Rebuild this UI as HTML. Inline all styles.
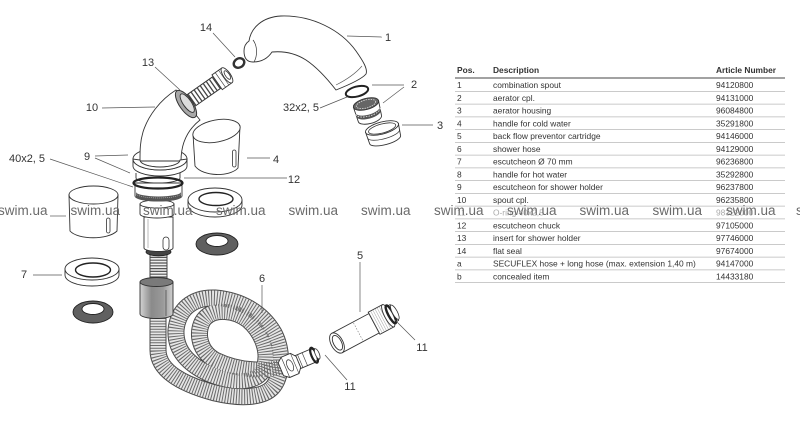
<!DOCTYPE html>
<html>
<head>
<meta charset="utf-8">
<style>
  html,body{margin:0;padding:0;background:#fff;}
  svg{display:block;}
  text{font-family:"Liberation Sans", Arial, sans-serif;}
</style>
</head>
<body>
<svg width="800" height="422" viewBox="0 0 800 422" xmlns="http://www.w3.org/2000/svg">
  <defs>
    <linearGradient id="sleeve" x1="0" x2="1" y1="0" y2="0">
      <stop offset="0" stop-color="#d4d4d4"/>
      <stop offset="0.35" stop-color="#8a8a8a"/>
      <stop offset="0.7" stop-color="#9a9a9a"/>
      <stop offset="1" stop-color="#cfcfcf"/>
    </linearGradient>
    <path id="hose" d="M158,318 L158,350 C158,372 185,385 215,393 C240,399 262,398 272,388 C283,376 283,350 274,333 C262,312 240,300 215,298 C192,297 178,310 176,330 C175,350 188,365 212,375 C235,384 258,383 264,368 C270,352 262,332 248,320 C235,310 215,308 205,318 C196,328 197,350 215,360 C240,372 265,372 285,366"/>
  </defs>

  <rect width="800" height="422" fill="#fff"/>

  <!-- ============ HOSE (6) ============ -->
  <use href="#hose" fill="none" stroke="#4a4a4a" stroke-width="17" stroke-linecap="butt"/>
  <use href="#hose" fill="none" stroke="#e6e6e6" stroke-width="15"/>
  <use href="#hose" fill="none" stroke="#6a6a6a" stroke-width="15" stroke-dasharray="1,1.7"/>

  <!-- threaded stub above sleeve -->
  <path d="M158.5,254 L158.5,283" stroke="#444" stroke-width="18" fill="none"/>
  <path d="M158.5,254 L158.5,283" stroke="#eee" stroke-width="16" fill="none"/>
  <path d="M158.5,254 L158.5,283" stroke="#555" stroke-width="16" fill="none" stroke-dasharray="1.2,1.6"/>

  <!-- sleeve -->
  <path d="M140,282 L140,314 A16.5,4.5 0 0 0 173,314 L173,282 Z" fill="url(#sleeve)" stroke="#333" stroke-width="0.9"/>
  <ellipse cx="156.5" cy="282" rx="16.5" ry="4.5" fill="#7a7a7a" stroke="#333" stroke-width="0.9"/>
  <line x1="166" y1="290" x2="166" y2="316" stroke="#333" stroke-width="0.6"/>

  <!-- ============ SPOUT COLUMN ============ -->
  <!-- dark ring bottom -->
  <ellipse cx="158.5" cy="252" rx="12.5" ry="3.8" fill="#444" stroke="#222" stroke-width="0.8"/>
  <!-- shaft -->
  <path d="M144,217 L144,248 A14.5,3.5 0 0 0 173,248 L173,217 Z" fill="#fff" stroke="#333" stroke-width="0.9"/>
  <line x1="148" y1="219" x2="148" y2="248" stroke="#777" stroke-width="0.5"/>
  <rect x="163" y="237" width="6" height="13" rx="3" fill="#fff" stroke="#333" stroke-width="0.8"/>
  <!-- light ring -->
  <path d="M140,204 L140,214 A17,4 0 0 0 174,214 L174,204 Z" fill="#fff" stroke="#333" stroke-width="0.9"/>
  <ellipse cx="157" cy="204" rx="17" ry="4" fill="#fff" stroke="#333" stroke-width="0.9"/>
  <!-- chuck 12 -->
  <path d="M135,183 L135,196 A23.5,5 0 0 0 182,196 L182,183 Z" fill="#fff" stroke="#333" stroke-width="0.9"/>
  <path d="M136,192 A22.5,4.5 0 0 0 181,192 L181,197 A22.5,4.5 0 0 1 136,197 Z" fill="#555"/>
  <path d="M136,193.5 A22.5,4.5 0 0 0 181,193.5" fill="none" stroke="#ddd" stroke-width="0.5" stroke-dasharray="1,1"/>
  <!-- thin ring under 9 -->
  <path d="M136,173 L136,178 A22,5 0 0 0 180,178 L180,173" fill="#fff" stroke="#333" stroke-width="0.9"/>
  <!-- O-ring 40x2,5 -->
  <ellipse cx="158" cy="183" rx="24.5" ry="5.5" fill="none" stroke="#222" stroke-width="2.2"/>

  <!-- ring 9 -->
  <path d="M133,159 L133,166 A27,10 0 0 0 187,166 L187,159 Z" fill="#fff" stroke="#333" stroke-width="0.9"/>
  <ellipse cx="160" cy="159" rx="27" ry="11" fill="#fff" stroke="#333" stroke-width="0.9"/>
  <ellipse cx="160" cy="160" rx="20" ry="7" fill="#fff" stroke="#333" stroke-width="0.8"/>

  <!-- spout 10 -->
  <path d="M176,90 C160,100 148,116 143,132 C140,142 140,150 140,161 L181,161 C181,145 186,131 200,120 Z" fill="#fff" stroke="#333" stroke-width="0.9"/>
  <path d="M133,159 A27,11 0 0 0 187,159 L180,160 A20,7 0 0 1 140,160 Z" fill="#fff" stroke="#333" stroke-width="0.9"/>

  <!-- ring 13 + insert -->
  <g transform="translate(186,104) rotate(-35)">
    <line x1="3" y1="0" x2="40" y2="0" stroke="#333" stroke-width="15"/>
    <line x1="3" y1="0" x2="40" y2="0" stroke="#fff" stroke-width="13"/>
    <line x1="3" y1="0" x2="40" y2="0" stroke="#444" stroke-width="13" stroke-dasharray="1.3,2.4"/>
    <rect x="38" y="-9" width="12" height="18" fill="#fff" stroke="#333" stroke-width="0.9"/>
    <line x1="42" y1="-9" x2="42" y2="9" stroke="#333" stroke-width="0.6"/>
    <line x1="46" y1="-9" x2="46" y2="9" stroke="#333" stroke-width="0.6"/>
    <ellipse cx="50" cy="0" rx="3.5" ry="9" fill="#fff" stroke="#333" stroke-width="0.9"/>
    <ellipse cx="50.5" cy="0" rx="2" ry="5" fill="#fff" stroke="#333" stroke-width="0.8"/>
    <ellipse cx="0" cy="0" rx="6.5" ry="16" fill="#a8a8a8" stroke="#333" stroke-width="1"/>
    <ellipse cx="1.5" cy="0" rx="4" ry="11" fill="#ddd" stroke="#333" stroke-width="0.9"/>
  </g>

  <!-- ring 14 -->
  <ellipse cx="239" cy="63" rx="5.5" ry="4.5" transform="rotate(-30 239 63)" fill="#fff" stroke="#333" stroke-width="2.4"/>

  <!-- spout head 1 -->
  <path d="M249,41 C251,28 262,17 281,16 C312,15 341,30 356,51 C363,61 368,69 366,74 C362,79 346,86 336,90 C329,81 318,68 306,60 C295,53 283,51 272,52 C268,58 262,62 253,62 C247,62 244,58 244,51 C244,46 246,43 249,41 Z" fill="#fff" stroke="#333" stroke-width="0.9"/>
  <path d="M253,40 C257,45 258,55 254,62" fill="none" stroke="#333" stroke-width="0.7"/>
  <path d="M362,66 C356,73 346,80 336,85" fill="none" stroke="#555" stroke-width="0.6"/>

  <!-- handle 4 -->
  <path d="M193,134 L195,166 C203,177 230,177 238,168 L240,126 Z" fill="#fff" stroke="#333" stroke-width="0.9"/>
  <ellipse cx="216.5" cy="131" rx="24" ry="11" transform="rotate(-11 216.5 131)" fill="#fff" stroke="#333" stroke-width="0.9"/>
  <rect x="232.5" y="150" width="3.5" height="17" rx="1.7" fill="#fff" stroke="#333" stroke-width="0.8"/>

  <!-- handle 8 -->
  <path d="M69,195 L70,231 C78,240 108,240 117,231 L118,195 Z" fill="#fff" stroke="#333" stroke-width="0.9"/>
  <ellipse cx="93.5" cy="195" rx="24.5" ry="9" fill="#fff" stroke="#333" stroke-width="0.9"/>
  <rect x="106.5" y="218" width="3.5" height="15" rx="1.7" fill="#fff" stroke="#333" stroke-width="0.8"/>

  <!-- escutcheon right -->
  <path d="M188,200 L188,205 A27,12 0 0 0 242,205 L242,200 Z" fill="#fff" stroke="#333" stroke-width="0.9"/>
  <ellipse cx="215" cy="200" rx="27" ry="12" fill="#fff" stroke="#333" stroke-width="0.9"/>
  <ellipse cx="216" cy="199" rx="17" ry="6.5" fill="#fff" stroke="#222" stroke-width="1.4"/>
  <!-- dark washer right -->
  <ellipse cx="217" cy="244" rx="21" ry="11" fill="#606060" stroke="#222" stroke-width="0.9"/>
  <ellipse cx="217" cy="241" rx="11" ry="5.5" fill="#fff" stroke="#222" stroke-width="0.9"/>

  <!-- escutcheon 7 -->
  <path d="M65,269 L65,275 A27,11 0 0 0 119,275 L119,269 Z" fill="#fff" stroke="#333" stroke-width="0.9"/>
  <ellipse cx="92" cy="269" rx="27" ry="11" fill="#fff" stroke="#333" stroke-width="0.9"/>
  <ellipse cx="93" cy="270" rx="17.5" ry="7" fill="#fff" stroke="#222" stroke-width="1.4"/>
  <!-- dark washer left -->
  <ellipse cx="93" cy="312" rx="20" ry="11" fill="#606060" stroke="#222" stroke-width="0.9"/>
  <ellipse cx="93" cy="309" rx="11" ry="5.5" fill="#fff" stroke="#222" stroke-width="0.9"/>

  <!-- O-ring 32x2,5 -->
  <ellipse cx="357" cy="91.5" rx="11.5" ry="5" transform="rotate(-15 357 91.5)" fill="none" stroke="#222" stroke-width="2"/>

  <!-- aerator 2 -->
  <g transform="translate(366,104) rotate(-15)">
    <path d="M-13,0 L-12,15 A12,5 0 0 0 12,15 L13,0 Z" fill="#fff" stroke="#333" stroke-width="0.9"/>
    <path d="M-12.5,6 A12.5,5 0 0 0 12.5,6 L12.5,10 A12.5,5 0 0 1 -12.5,10 Z" fill="#555"/>
    <path d="M-12.5,7.5 A12.5,5 0 0 0 12.5,7.5" fill="none" stroke="#eee" stroke-width="0.8" stroke-dasharray="1.5,1.2"/>
    <ellipse cx="0" cy="0" rx="13" ry="5.5" fill="#666" stroke="#333" stroke-width="0.9"/>
    <ellipse cx="0" cy="0" rx="10" ry="4" fill="none" stroke="#ddd" stroke-width="0.8" stroke-dasharray="1.5,1"/>
  </g>

  <!-- aerator housing 3 -->
  <g transform="translate(382,128) rotate(-15)">
    <path d="M-17,0 L-16,12 A16,5 0 0 0 16,12 L17,0 Z" fill="#fff" stroke="#333" stroke-width="0.9"/>
    <path d="M-16.5,6 A16.5,5 0 0 0 16.5,6" fill="none" stroke="#333" stroke-width="0.7"/>
    <ellipse cx="0" cy="0" rx="17" ry="6" fill="#fff" stroke="#333" stroke-width="0.9"/>
    <ellipse cx="0" cy="0.5" rx="14" ry="4.5" fill="#fff" stroke="#333" stroke-width="0.8"/>
  </g>

  <!-- coupling at hose end -->
  <g transform="translate(291,365) rotate(-23)">
    <rect x="5" y="-7" width="18" height="14" fill="#fff" stroke="#333" stroke-width="0.9"/>
    <line x1="10" y1="-7" x2="10" y2="7" stroke="#333" stroke-width="0.6"/>
    <line x1="15" y1="-7" x2="15" y2="7" stroke="#333" stroke-width="0.6"/>
    <path d="M-11,-7 L-6,-11 L4,-11 L8,-6 L8,6 L4,11 L-6,11 L-11,7 Z" fill="#fff" stroke="#333" stroke-width="0.9"/>
    <line x1="-6" y1="-11" x2="-6" y2="11" stroke="#333" stroke-width="0.6"/>
    <line x1="4" y1="-11" x2="4" y2="11" stroke="#333" stroke-width="0.6"/>
    <ellipse cx="-1" cy="0" rx="3" ry="6" fill="#fff" stroke="#333" stroke-width="0.7"/>
    <rect x="23" y="-6" width="5" height="12" fill="#fff" stroke="#333" stroke-width="0.8"/>
    <ellipse cx="25" cy="0" rx="2.6" ry="8" fill="none" stroke="#222" stroke-width="2.2"/>
    <ellipse cx="28.5" cy="0" rx="2" ry="5.5" fill="#fff" stroke="#333" stroke-width="0.8"/>
  </g>

  <!-- backflow cartridge 5 -->
  <g transform="translate(337,343) rotate(-28)">
    <rect x="0" y="-11" width="42" height="22" fill="#fff" stroke="#333" stroke-width="0.9"/>
    <line x1="24" y1="-10" x2="24" y2="10" stroke="#777" stroke-width="0.6" stroke-dasharray="1.5,1.5"/>
    <rect x="42" y="-12.5" width="16" height="25" fill="#fff" stroke="#333" stroke-width="0.9"/>
    <line x1="42" y1="0" x2="58" y2="0" stroke="#555" stroke-width="24" stroke-dasharray="0.6,1.8" opacity="0.45"/>
    <ellipse cx="58" cy="0" rx="3.5" ry="12.5" fill="#fff" stroke="#333" stroke-width="0.9"/>
    <rect x="59" y="-9" width="6" height="18" fill="#fff" stroke="#333" stroke-width="0.8"/>
    <ellipse cx="61" cy="0" rx="2.6" ry="10" fill="none" stroke="#222" stroke-width="2.4"/>
    <ellipse cx="65.5" cy="0" rx="2.5" ry="8" fill="#fff" stroke="#333" stroke-width="0.8"/>
    <ellipse cx="0" cy="0" rx="6" ry="11" fill="#fff" stroke="#333" stroke-width="0.9"/>
    <ellipse cx="0.5" cy="0" rx="4" ry="8" fill="#fff" stroke="#333" stroke-width="0.9"/>
  </g>

  <!-- ============ LEADERS ============ -->
  <g stroke="#555" stroke-width="0.7" fill="none">
    <line x1="347" y1="36" x2="382" y2="37"/>
    <line x1="372" y1="85" x2="404" y2="85"/>
    <line x1="404" y1="87" x2="383" y2="103"/>
    <line x1="402" y1="125" x2="433" y2="125"/>
    <line x1="320" y1="108" x2="347" y2="97"/>
    <line x1="213" y1="33" x2="235" y2="57"/>
    <line x1="155" y1="67" x2="180" y2="90"/>
    <line x1="102" y1="108" x2="155" y2="107"/>
    <line x1="95" y1="156" x2="128" y2="155"/>
    <line x1="95" y1="158" x2="130" y2="173"/>
    <line x1="50" y1="159" x2="133" y2="187"/>
    <line x1="247" y1="158" x2="270" y2="158"/>
    <line x1="184" y1="178" x2="287" y2="178"/>
    <line x1="33" y1="275" x2="62" y2="275"/>
    <line x1="262" y1="285" x2="262" y2="313"/>
    <line x1="360" y1="262" x2="360" y2="312"/>
    <line x1="415" y1="340" x2="395" y2="320"/>
    <line x1="347" y1="380" x2="325" y2="355"/>
    <line x1="50" y1="216" x2="66" y2="216"/>
  </g>

  <!-- ============ LABELS ============ -->
  <g font-size="11" fill="#333" text-anchor="middle">
    <text x="388" y="41">1</text>
    <text x="414" y="88">2</text>
    <text x="440" y="129">3</text>
    <text x="301" y="111">32x2, 5</text>
    <text x="206" y="31">14</text>
    <text x="148" y="66">13</text>
    <text x="92" y="111">10</text>
    <text x="87" y="160">9</text>
    <text x="27" y="162">40x2, 5</text>
    <text x="276" y="163">4</text>
    <text x="294" y="183">12</text>
    <text x="24" y="278">7</text>
    <text x="262" y="282">6</text>
    <text x="360" y="259">5</text>
    <text x="422" y="351">11</text>
    <text x="350" y="390">11</text>
  </g>

  <!-- ============ TABLE ============ -->
  <g font-size="8.4" fill="#333">
    <text x="457" y="73" font-weight="bold">Pos.</text>
    <text x="493" y="73" font-weight="bold">Description</text>
    <text x="716" y="73" font-weight="bold">Article Number</text>
  </g>
  <line x1="455" y1="78" x2="785" y2="78" stroke="#444" stroke-width="0.9"/>
  <g stroke="#b8b8b8" stroke-width="0.8">
    <line x1="455" y1="91.4" x2="785" y2="91.4"/>
    <line x1="455" y1="104.15" x2="785" y2="104.15"/>
    <line x1="455" y1="116.9" x2="785" y2="116.9"/>
    <line x1="455" y1="129.65" x2="785" y2="129.65"/>
    <line x1="455" y1="142.4" x2="785" y2="142.4"/>
    <line x1="455" y1="155.15" x2="785" y2="155.15"/>
    <line x1="455" y1="167.9" x2="785" y2="167.9"/>
    <line x1="455" y1="180.65" x2="785" y2="180.65"/>
    <line x1="455" y1="193.4" x2="785" y2="193.4"/>
    <line x1="455" y1="206.15" x2="785" y2="206.15"/>
    <line x1="455" y1="218.9" x2="785" y2="218.9"/>
    <line x1="455" y1="231.65" x2="785" y2="231.65"/>
    <line x1="455" y1="244.4" x2="785" y2="244.4"/>
    <line x1="455" y1="257.15" x2="785" y2="257.15"/>
    <line x1="455" y1="269.9" x2="785" y2="269.9"/>
    <line x1="455" y1="282.65" x2="785" y2="282.65"/>
  </g>
  <g font-size="8.4" fill="#333">
    <text x="457" y="88">1</text><text x="493" y="88">combination spout</text><text x="716" y="88">94120800</text>
    <text x="457" y="100.75">2</text><text x="493" y="100.75">aerator cpl.</text><text x="716" y="100.75">94131000</text>
    <text x="457" y="113.5">3</text><text x="493" y="113.5">aerator housing</text><text x="716" y="113.5">96084800</text>
    <text x="457" y="126.25">4</text><text x="493" y="126.25">handle for cold water</text><text x="716" y="126.25">35291800</text>
    <text x="457" y="139">5</text><text x="493" y="139">back flow preventor cartridge</text><text x="716" y="139">94146000</text>
    <text x="457" y="151.75">6</text><text x="493" y="151.75">shower hose</text><text x="716" y="151.75">94129000</text>
    <text x="457" y="164.5">7</text><text x="493" y="164.5">escutcheon Ø 70 mm</text><text x="716" y="164.5">96236800</text>
    <text x="457" y="177.25">8</text><text x="493" y="177.25">handle for hot water</text><text x="716" y="177.25">35292800</text>
    <text x="457" y="190">9</text><text x="493" y="190">escutcheon for shower holder</text><text x="716" y="190">96237800</text>
    <text x="457" y="202.75">10</text><text x="493" y="202.75">spout cpl.</text><text x="716" y="202.75">96235800</text>
    <text x="457" y="228.25">12</text><text x="493" y="228.25">escutcheon chuck</text><text x="716" y="228.25">97105000</text>
    <text x="457" y="241">13</text><text x="493" y="241">insert for shower holder</text><text x="716" y="241">97746000</text>
    <text x="457" y="253.75">14</text><text x="493" y="253.75">flat seal</text><text x="716" y="253.75">97674000</text>
    <text x="457" y="266.5">a</text><text x="493" y="266.5">SECUFLEX hose + long hose (max. extension 1,40 m)</text><text x="716" y="266.5">94147000</text>
    <text x="457" y="279.25">b</text><text x="493" y="279.25">concealed item</text><text x="716" y="279.25">14433180</text>
  </g>
  <g font-size="8.4" fill="#aaa">
    <text x="457" y="215.5">11</text><text x="493" y="215.5">O-ring 40x2,5</text><text x="716" y="215.5">98322000</text>
  </g>

  <!-- ============ WATERMARK ============ -->
  <g font-size="13.5" fill="#6a6a6a">
    <text x="-2" y="215">swim.ua</text>
    <text x="70.5" y="215">swim.ua</text>
    <text x="143" y="215">swim.ua</text>
    <text x="216" y="215">swim.ua</text>
    <text x="288.5" y="215">swim.ua</text>
    <text x="361" y="215">swim.ua</text>
    <text x="434" y="215">swim.ua</text>
    <text x="507" y="215">swim.ua</text>
    <text x="579.5" y="215">swim.ua</text>
    <text x="652.5" y="215">swim.ua</text>
    <text x="726" y="215">swim.ua</text>
    <text x="796" y="215">swim.ua</text>
  </g>
</svg>
</body>
</html>
